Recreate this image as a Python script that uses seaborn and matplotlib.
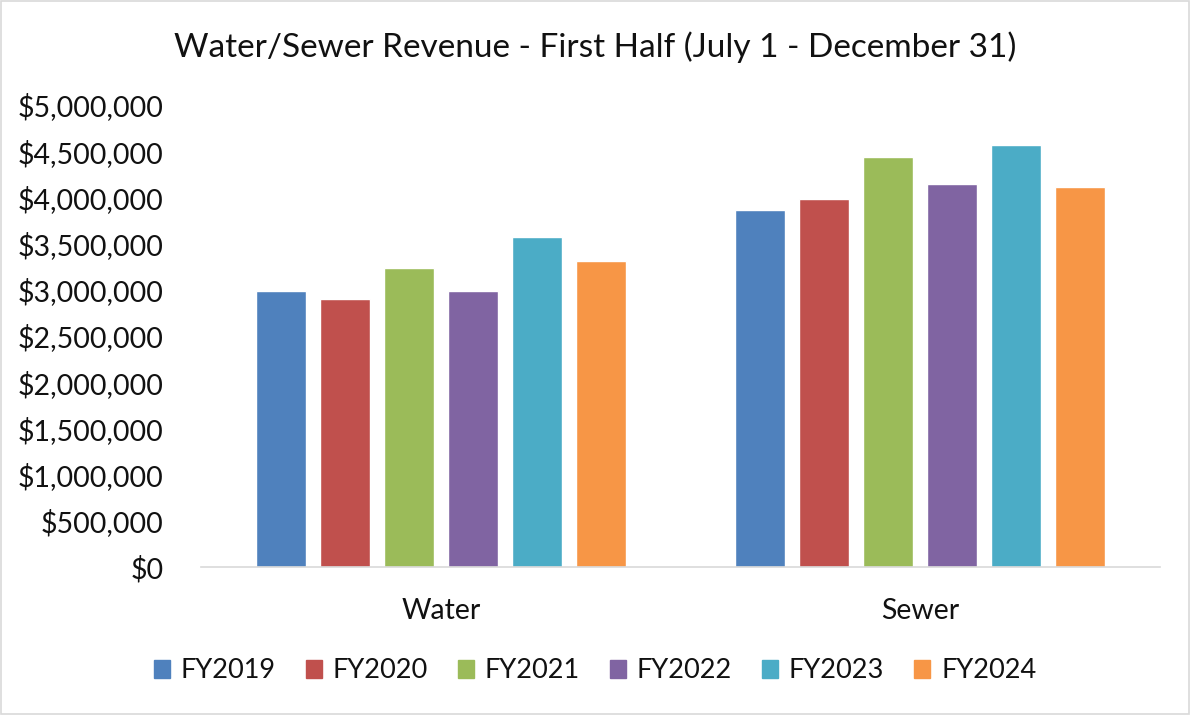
import numpy as np
import pandas as pd
import matplotlib.pyplot as plt
import seaborn as sns
from matplotlib.ticker import FuncFormatter
from matplotlib.patches import Rectangle

# values (dollars)
categories = ["Water", "Sewer"]
years = ["FY2019", "FY2020", "FY2021", "FY2022", "FY2023", "FY2024"]
water = [2990000, 2900000, 3236000, 2987000, 3571000, 3312000]
sewer = [3864000, 3983000, 4437000, 4145000, 4572000, 4113000]
colors = ["#4F81BD", "#C0504D", "#9BBB59", "#8064A2", "#4BACC6", "#F79646"]

rows = []
for cat, vals in zip(categories, [water, sewer]):
    for yr, v in zip(years, vals):
        rows.append({"cat": cat, "year": yr, "revenue": v})
df = pd.DataFrame(rows)

sns.set_style("white")
plt.rcParams["font.family"] = ["Lato", "DejaVu Sans"]

fig = plt.figure(figsize=(11.9, 7.15), dpi=100)
ax = fig.add_axes([201/1190, 1-567/715, 959/1190, 462/715])

sns.barplot(data=df, x="cat", y="revenue", hue="year", palette=colors,
            order=categories, hue_order=years, width=0.8, gap=0.22,
            saturation=1, ax=ax, errorbar=None)

ax.set_ylim(0, 5000000)
ax.set_yticks(np.arange(0, 5000001, 500000))
ax.yaxis.set_major_formatter(FuncFormatter(lambda v, p: "${:,.0f}".format(v)))
ax.tick_params(axis="y", labelsize=20.5, length=0, pad=27, labelcolor="#111111")
ax.tick_params(axis="x", labelsize=20.5, length=0, pad=22, labelcolor="#111111")
ax.set_xlabel("")
ax.set_ylabel("")
for s in ["top", "right", "left"]:
    ax.spines[s].set_visible(False)
ax.spines["bottom"].set_color("#D9D9D9")
ax.spines["bottom"].set_linewidth(1.2)

fig.suptitle("Water/Sewer Revenue - First Half (July 1 - December 31)",
             fontsize=24, y=1-47/715, va="center", color="#111111")

ax.legend_.remove()
handles = [Rectangle((0, 0), 1, 1, color=c) for c in colors]
fig.legend(handles, years, loc="center", bbox_to_anchor=(0.5, 1-671/715),
           ncol=6, frameon=False, fontsize=19.5, handlelength=0.6,
           handleheight=0.6, columnspacing=1.1, handletextpad=0.4,
           labelcolor="#111111")

# outer chart border
fig.patches.append(Rectangle((0.001, 0.001), 0.998, 0.997, transform=fig.transFigure,
                             fill=False, edgecolor="#D9D9D9", linewidth=1.2))

fig.savefig("out.png", dpi=100)
